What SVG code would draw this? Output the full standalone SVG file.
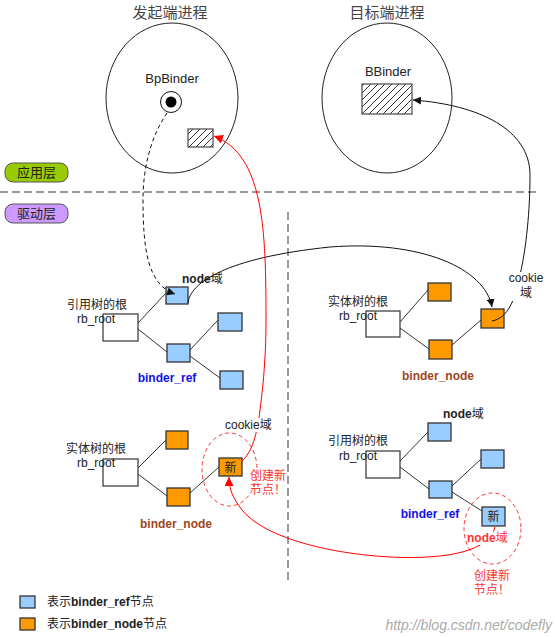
<svg xmlns="http://www.w3.org/2000/svg" width="555" height="637" viewBox="0 0 555 637">
<style>
text{font-family:"Liberation Sans","Noto Sans CJK SC",sans-serif;font-size:12px;fill:#222}
.title{font-size:15px;fill:#444}
.b{font-weight:bold}
.ell{fill:none;stroke:#222;stroke-width:1}
.ref{fill:#99ccff;stroke:#333;stroke-width:1.3}
.nod{fill:#ff9900;stroke:#333;stroke-width:1.3}
.root{fill:#fff;stroke:#333;stroke-width:1.2}
.tl{stroke:#333;stroke-width:1;fill:none}
.sep{stroke:#333;stroke-width:1;stroke-dasharray:8 4;fill:none}
.blk{stroke:#111;stroke-width:1;fill:none}
.red{stroke:#ff0000;stroke-width:1;fill:none}
.rdash{stroke:#ff3333;stroke-width:1;stroke-dasharray:4 3;fill:none}
.rtxt{fill:#ff3333}
.bg{fill:#fff}
</style>
<defs>
<pattern id="hatch" patternUnits="userSpaceOnUse" width="7" height="7">
<path d="M0,7 L7,0 M-1,1 L1,-1 M6,8 L8,6" stroke="#333" stroke-width="1"/>
</pattern>
<marker id="ab" viewBox="0 0 10 10" refX="10" refY="5" markerWidth="8" markerHeight="8" markerUnits="userSpaceOnUse" orient="auto">
<path d="M0,0 L10,5 L0,10 z" fill="#111"/>
</marker>
<marker id="ar" viewBox="0 0 10 10" refX="10" refY="5" markerWidth="9" markerHeight="9" markerUnits="userSpaceOnUse" orient="auto">
<path d="M0,0 L10,5 L0,10 z" fill="#ff0000"/>
</marker>
</defs>
<rect width="555" height="637" fill="#fff"/>

<g id="layers">
<text class="title" x="170" y="18" text-anchor="middle">发起端进程</text>
<text class="title" x="387" y="18" text-anchor="middle">目标端进程</text>
<line class="sep" x1="0" y1="192" x2="540" y2="192"/>
<line class="sep" x1="288" y1="212" x2="288" y2="582"/>
<g id="app-layer"><rect x="5" y="163" width="63" height="19" rx="8" fill="#99cc00" stroke="#555"/><text x="36.5" y="177" text-anchor="middle" style="font-size:13px">应用层</text></g>
<g id="drv-layer"><rect x="5" y="204" width="63" height="19" rx="8" fill="#cc99ff" stroke="#555"/><text x="36.5" y="218" text-anchor="middle" style="font-size:13px">驱动层</text></g>
</g>

<g id="proc-client">
<ellipse class="ell" cx="172" cy="98" rx="66" ry="75"/>
<text x="172" y="83" text-anchor="middle" style="font-size:13px">BpBinder</text>
<circle cx="171" cy="102" r="10.5" fill="#fff" stroke="#111"/>
<circle cx="171" cy="102" r="5.5" fill="#000"/>
<rect x="188" y="129" width="25" height="18" fill="url(#hatch)" stroke="#555" stroke-width="1.3"/>
</g>
<g id="proc-server">
<ellipse class="ell" cx="387" cy="98" rx="65" ry="75"/>
<text x="388" y="76" text-anchor="middle" style="font-size:13px">BBinder</text>
<rect x="362" y="84" width="50" height="30" fill="url(#hatch)" stroke="#555" stroke-width="1.3"/>
</g>

<g id="ref-tree-left">
<text x="97" y="309" text-anchor="middle">引用树的根</text>
<rect class="root" x="103" y="314" width="35" height="27"/>
<text x="96" y="323" text-anchor="middle">rb_root</text>
<rect class="ref" x="166" y="287" width="22" height="17"/>
<text x="182" y="283"><tspan class="b">node</tspan>域</text>
<rect class="ref" x="167" y="344" width="23" height="18"/>
<rect class="ref" x="218" y="313" width="24" height="18"/>
<rect class="ref" x="220" y="371" width="23" height="18"/>
<text class="b" x="167" y="382" text-anchor="middle" style="fill:#1010ee">binder_ref</text>
</g>

<g id="node-tree-right">
<text x="358" y="306" text-anchor="middle">实体树的根</text>
<rect class="root" x="366" y="311" width="34" height="26"/>
<text x="358" y="320" text-anchor="middle">rb_root</text>
<rect class="nod" x="428" y="283" width="23" height="18"/>
<rect class="nod" x="429" y="340" width="23" height="19"/>
<rect class="nod" x="481" y="309" width="23" height="19"/>
<text class="b" x="438" y="380" text-anchor="middle" style="fill:#a0461e">binder_node</text>
</g>

<g id="node-tree-left">
<text x="96" y="453" text-anchor="middle">实体树的根</text>
<rect class="root" x="103" y="459" width="35" height="27"/>
<text x="96" y="467" text-anchor="middle">rb_root</text>
<rect class="nod" x="166" y="431" width="22" height="18"/>
<rect class="nod" x="167" y="488" width="23" height="18"/>
<ellipse class="rdash" cx="229.5" cy="469.5" rx="27.5" ry="36.5"/>
<rect class="nod" x="219" y="458" width="23" height="18"/>
<text x="230.5" y="471.5" text-anchor="middle">新</text>
<text class="rtxt" x="250" y="480">创建新</text>
<text class="rtxt" x="250" y="494">节点！</text>
<text class="b" x="176" y="528" text-anchor="middle" style="fill:#a0461e">binder_node</text>
</g>

<g id="ref-tree-right">
<text x="358" y="445" text-anchor="middle">引用树的根</text>
<rect class="root" x="366" y="451" width="34" height="27"/>
<text x="358" y="460" text-anchor="middle">rb_root</text>
<text x="443" y="418"><tspan class="b">node</tspan>域</text>
<rect class="ref" x="428" y="423" width="23" height="18"/>
<rect class="ref" x="429" y="481" width="23" height="17"/>
<rect class="ref" x="481" y="450" width="23" height="18"/>
<text class="b" x="430" y="518" text-anchor="middle" style="fill:#1010ee">binder_ref</text>
<ellipse class="rdash" cx="492.5" cy="528.5" rx="28.5" ry="35.5"/>
<rect class="ref" x="482" y="507" width="23" height="19"/>
<text x="493.5" y="521" text-anchor="middle">新</text>
<text class="rtxt" x="474" y="580">创建新</text>
<text class="rtxt" x="474" y="594">节点！</text>
</g>

<g id="connectors">
<path class="tl" d="M138,323 L166,293 M138,329 L167,352 M190,350 L218,320 M190,356 L220,378"/>
<path class="tl" d="M400,322 L428,290 M400,328 L429,349 M452,345 L481,320"/>
<path class="tl" d="M138,468 L166,440 M138,474 L167,496 M190,493 L219,467"/>
<path class="tl" d="M400,461 L428,432 M400,467 L429,489 M452,486 L481,459 M452,492 L482,511"/>
<path class="blk" stroke-dasharray="4 3" d="M167,113 C152,135 143,165 143,200 C143,250 148,285 175,294" marker-end="url(#ab)"/>
<path class="blk" d="M188,303 C190,283 225,258 330,247 C420,240 485,268 492,307" marker-end="url(#ab)"/>
<path class="blk" d="M492,321 C508,318 515,300 520,275 C528,240 530,200 530,175 C530,130 480,105 413,100" marker-end="url(#ab)"/>
<path class="red" d="M242,461 C252,452 257,435 260,410 C264,380 266,350 266,320 C266,230 264,155 214,136" marker-end="url(#ar)"/>
<path class="red" d="M495,527 C490,550 450,560 390,557 C320,553 262,535 242,510 C233,498 229,490 229,477" marker-end="url(#ar)"/>
</g>

<g id="connector-labels">
<rect class="bg" x="506" y="272" width="39" height="29"/>
<text x="526" y="282" text-anchor="middle">cookie</text>
<text x="526" y="297" text-anchor="middle">域</text>
<rect class="bg" x="224" y="418" width="50" height="14"/>
<text x="225" y="429">cookie域</text>
<rect class="bg" x="468" y="532" width="40" height="13"/>
<text class="rtxt b" x="467" y="542">node<tspan style="font-weight:normal">域</tspan></text>
</g>

<g id="legend">
<rect class="ref" x="20" y="596" width="15" height="12"/>
<text x="47" y="606">表示<tspan class="b">binder_ref</tspan>节点</text>
<rect class="nod" x="20" y="618" width="15" height="12"/>
<text x="47" y="628">表示<tspan class="b">binder_node</tspan>节点</text>
<text x="552" y="630" text-anchor="end" style="font-size:14px;font-style:italic;fill:#aaa">http://blog.csdn.net/codefly</text>
</g>
</svg>
